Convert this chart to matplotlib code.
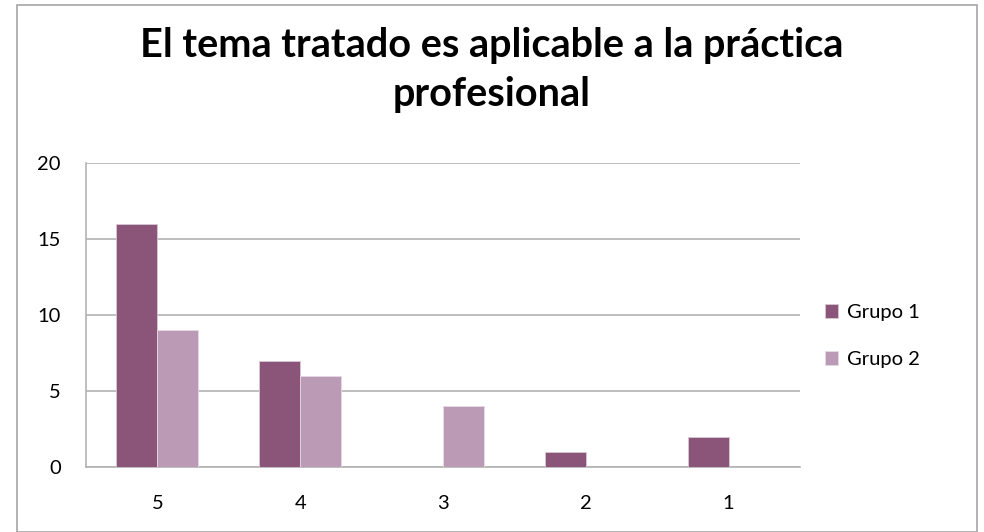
import matplotlib
matplotlib.use("Agg")
import matplotlib.pyplot as plt
import numpy as np
from matplotlib.patches import Rectangle

categories = ["5", "4", "3", "2", "1"]
grupo1 = [16, 7, 0, 1, 2]
grupo2 = [9, 6, 4, 0, 0]
series_names = ["Grupo 1", "Grupo 2"]
title = "El tema tratado es aplicable a la práctica\nprofesional"

c1 = "#8B5579"
c2 = "#BB9AB5"

plt.rcParams['font.family'] = ['Lato', 'DejaVu Sans']

fig = plt.figure(figsize=(9.84, 5.32), dpi=100)
fig.patches.append(Rectangle((17/984, 0), (977-17)/984, (532-5)/532, transform=fig.transFigure,
                             fill=False, edgecolor="#A6A6A6", linewidth=1.2))
ax = fig.add_axes([86/984, 65/532, (800-86)/984, (467-163)/532])

x = np.arange(len(categories))
w = 0.287
ax.bar(x - w/2, grupo1, w, color=c1, edgecolor="#D9C8D4", linewidth=0.6, label=series_names[0], zorder=3)
ax.bar(x + w/2, grupo2, w, color=c2, edgecolor="#E6DAE3", linewidth=0.6, label=series_names[1], zorder=3)

ax.set_xlim(-0.5, len(categories) - 0.5)
ax.set_ylim(0, 20)
ax.set_yticks([0, 5, 10, 15, 20])
ax.set_xticks(x)
ax.set_xticklabels(categories)
ax.yaxis.grid(True, color="#B3B3B3", linewidth=1.2, zorder=0)
ax.set_axisbelow(True)
for s in ["top", "right"]:
    ax.spines[s].set_visible(False)
for s in ["left", "bottom"]:
    ax.spines[s].set_color("#B3B3B3")
    ax.spines[s].set_linewidth(1.2)
ax.tick_params(axis="both", length=0, labelsize=14.5, colors="black")
ax.tick_params(axis="y", pad=18)
ax.tick_params(axis="x", pad=20)

fig.text(0.5, 1 - 70/532, title, ha="center", va="center", fontsize=28.5, fontweight="bold",
         linespacing=1.42)

fig.legend(loc="center left", bbox_to_anchor=(825/984, 1 - 336/532), frameon=False, fontsize=14.5,
           handlelength=0.65, handleheight=0.65, handletextpad=0.45, labelspacing=1.5,
           borderaxespad=0, borderpad=0)

fig.savefig("out.png", dpi=100)
